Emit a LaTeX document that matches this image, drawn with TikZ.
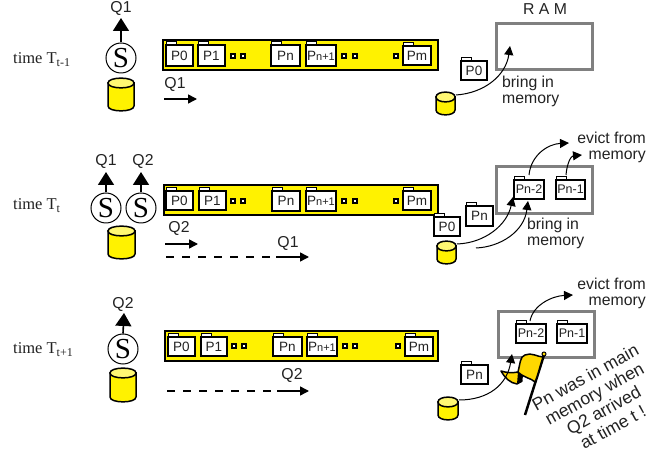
\documentclass[tikz,border=0pt]{standalone}
\usepackage{fontspec}
\setmainfont{Liberation Sans}
\newfontfamily\timesf{Liberation Serif}
\usetikzlibrary{arrows.meta,fit}
\definecolor{inkc}{HTML}{222222}
\definecolor{ramgray}{HTML}{808080}
\definecolor{flaggold}{HTML}{FFD800}
\tikzset{
  x=1pt,y=-1pt,
  txt/.style={text=inkc,inner sep=0pt,font=\fontsize{15.8}{16}\selectfont,align=center},
  timetxt/.style={text=inkc,inner sep=0pt,anchor=west,font=\timesf\fontsize{16.5}{18}\selectfont},
  stxt/.style={circle,draw=black,line width=1pt,fill=white,minimum size=30pt,inner sep=0pt,font=\timesf\fontsize{29}{29}\selectfont},
  barbox/.style={draw=black,fill=yellow,line width=2.5pt,inner sep=0pt},
  folderbox/.style={draw=black,fill=white,line width=1.8pt,inner sep=0pt},
  dotbox/.style={draw=black,fill=white,line width=1.8pt,minimum size=4.5pt,inner sep=0pt},
  rambox/.style={draw=ramgray,line width=3pt,inner sep=0pt},
  uparr/.style={line width=1.6pt,-{Triangle[length=13pt,width=16pt]}},
  qarr/.style={line width=1.5pt,-{Triangle[length=9pt,width=9pt]}},
  qdash/.style={line width=1.5pt,dash pattern=on 8pt off 8pt},
  curvearr/.style={line width=1pt,-{Triangle[length=9pt,width=9pt]}},
}
\newcommand{\folder}[6]{%
  \node[folderbox,fit={(#2,#3)(#4,#5)}] (#1) {};
  \node[text=inkc,inner sep=0pt,font=\fontsize{13.5}{14}\selectfont] (#1t) at (#1.center) {#6};
  \draw[draw=black,fill=white,line width=1pt] (#2,#3-3) rectangle (#2+10,#3);
}
\newcommand{\cyl}[5]{%
  \path[draw=black,fill=yellow,line width=1.5pt]
    (#2,#3+5) -- (#4,#3+5) -- (#4,#5-5) .. controls (#4,#5+1.5) and (#2,#5+1.5) .. (#2,#5-5) -- cycle;
  \path[draw=black,fill=yellow!55!white,line width=1.5pt]
    (#2,#3+5) .. controls (#2,#3-1.5) and (#4,#3-1.5) .. (#4,#3+5)
    .. controls (#4,#3+11.5) and (#2,#3+11.5) .. (#2,#3+5) -- cycle;
  \coordinate (#1) at (#4+1,#3+3);
}
\newcommand{\smallp}[1]{P{\fontsize{11}{12}\selectfont #1}}
\newcommand{\nar}[1]{\fontsize{12.5}{14}\selectfont #1}
\begin{document}
\begin{tikzpicture}
\useasboundingbox (0,0) rectangle (665,454);

% ---------- row 1 ----------
\node[timetxt] (t1) at (13,60) {time T\raisebox{-3pt}{\fontsize{12}{12}\selectfont t-1}};
\node[stxt] (s1) at (121,58) {S};
\node[txt] (q1a) at (121,8) {Q1};
\coordinate (q1tip) at (121,18);
\draw[uparr] (s1.north) -- (q1tip);
\cyl{c1a}{108}{78}{134}{111}
\node[barbox,fit={(163,40)(438,70)}] (bar1) {};
\folder{r1p0}{166}{45}{193}{66}{P0}
\folder{r1p1}{198}{45}{225}{66}{P1}
\node[dotbox] (r1d1) at (233,56) {};
\node[dotbox] (r1d2) at (243,56) {};
\folder{r1pn}{271}{45}{300}{66}{Pn}
\folder{r1pn1}{306}{45}{336}{66}{\smallp{n+1}}
\node[dotbox] (r1d3) at (344,56) {};
\node[dotbox] (r1d4) at (355,56) {};
\node[dotbox] (r1d5) at (396,56) {};
\folder{r1pm}{403}{46}{431}{65}{Pm}
\node[txt] (q1b) at (175,84) {Q1};
\coordinate (a1s) at (164,99);
\coordinate (a1e) at (197,99);
\draw[qarr] (a1s) -- (a1e);
\node[txt] (ram) at (545,9) {R A M};
\node[rambox,fit={(496,24)(592,70)}] (ram1) {};
\folder{r1p0b}{461}{61}{487}{80}{P0}
\cyl{c1b}{436}{92}{455}{115}
\coordinate (r1tip) at (510,46);
\draw[curvearr] (c1b) .. controls (485,93) and (506,75) .. (r1tip);
\node[txt,anchor=north west,align=left] (bring1) at (502,76) {bring in\\memory};

% ---------- row 2 ----------
\node[timetxt] (t2) at (13,206) {time T\raisebox{-3pt}{\fontsize{12}{12}\selectfont t}};
\node[stxt] (s2a) at (106,208) {S};
\node[stxt] (s2b) at (141,208) {S};
\node[txt] (q2a) at (106,161) {Q1};
\node[txt] (q2b) at (143,161) {Q2};
\coordinate (q2at) at (106,172);
\coordinate (q2bt) at (141,172);
\draw[uparr] (s2a.north) -- (q2at);
\draw[uparr] (s2b.north) -- (q2bt);
\cyl{c2a}{108}{226}{135}{259}
\node[barbox,fit={(164,185)(438,215)}] (bar2) {};
\folder{r2p0}{166}{191}{193}{210}{P0}
\folder{r2p1}{199}{191}{226}{210}{P1}
\node[dotbox] (r2d1) at (233,201) {};
\node[dotbox] (r2d2) at (243,201) {};
\folder{r2pn}{272}{191}{300}{211}{Pn}
\folder{r2pn1}{306}{191}{336}{211}{\smallp{n+1}}
\node[dotbox] (r2d3) at (344,201) {};
\node[dotbox] (r2d4) at (355,201) {};
\node[dotbox] (r2d5) at (396,201) {};
\folder{r2pm}{403}{191}{431}{210}{Pm}
\node[txt] (q2c) at (179,228) {Q2};
\coordinate (a2s) at (165,244);
\coordinate (a2e) at (198,244);
\draw[qarr] (a2s) -- (a2e);
\coordinate (d2s) at (166,257);
\coordinate (d2e) at (276,257);
\coordinate (d2t) at (309,257);
\draw[qdash] (d2s) -- (d2e);
\draw[qarr] (d2e) -- (d2t);
\node[txt] (q2d) at (288,243) {Q1};
\node[rambox,fit={(496,167)(592,214)}] (ram2) {};
\folder{r2pn2}{514}{180}{544}{199}{\nar{Pn-2}}
\folder{r2pn1b}{556}{180}{585}{199}{\nar{Pn-1}}
\folder{r2pnb}{466}{206}{493}{226}{Pn}
\folder{r2p0b}{434}{217}{460}{236}{P0}
\cyl{c2b}{437}{241}{456}{264}
\coordinate (c2c) at (476,248);
\coordinate (r2ta) at (513,197);
\coordinate (r2tb) at (528,201);
\draw[curvearr] (c2b) .. controls (485,243) and (507,225) .. (r2ta);
\draw[curvearr] (c2c) .. controls (500,247) and (524,232) .. (r2tb);
\node[txt,anchor=north west,align=left] (bring2) at (527,218) {bring in\\memory};
\coordinate (e2a) at (529,175);
\coordinate (e2at) at (569,143);
\coordinate (e2b) at (566,175);
\coordinate (e2bt) at (582,155);
\draw[curvearr] (e2a) .. controls (531,155) and (548,144) .. (e2at);
\draw[curvearr] (e2b) .. controls (567,163) and (571,156) .. (e2bt);
\node[txt,anchor=north east,align=right] (evict2) at (646,132) {evict from\\memory};

% ---------- row 3 ----------
\node[timetxt] (t3) at (13,350) {time T\raisebox{-3pt}{\fontsize{12}{12}\selectfont t+1}};
\node[stxt] (s3) at (123,349) {S};
\node[txt] (q3a) at (123,304) {Q2};
\coordinate (q3t) at (124,313);
\draw[uparr] (s3.north) -- (q3t);
\cyl{c3a}{110}{368}{136}{402}
\node[barbox,fit={(165,331)(438,361)}] (bar3) {};
\folder{r3p0}{168}{337}{195}{356}{P0}
\folder{r3p1}{201}{337}{227}{356}{P1}
\node[dotbox] (r3d1) at (234,346) {};
\node[dotbox] (r3d2) at (244,346) {};
\folder{r3pn}{273}{337}{302}{356}{Pn}
\folder{r3pn1}{307}{337}{337}{356}{\smallp{n+1}}
\node[dotbox] (r3d3) at (345,346) {};
\node[dotbox] (r3d4) at (355,346) {};
\node[dotbox] (r3d5) at (398,346) {};
\folder{r3pm}{405}{337}{433}{356}{Pm}
\coordinate (d3s) at (167,391);
\coordinate (d3e) at (277,391);
\coordinate (d3t) at (309,391);
\draw[qdash] (d3s) -- (d3e);
\draw[qarr] (d3e) -- (d3t);
\node[txt] (q3b) at (292,375) {Q2};
\node[rambox,fit={(498,312)(594,358)}] (ram3) {};
\folder{r3pn2}{516}{324}{546}{343}{\nar{Pn-2}}
\folder{r3pn1b}{557}{324}{587}{343}{\nar{Pn-1}}
\folder{r3pnb}{461}{365}{488}{384}{Pn}
\cyl{c3b}{438}{397}{458}{420}
\coordinate (e3a) at (530,321);
\coordinate (e3t) at (573,295);
\draw[curvearr] (e3a) .. controls (533,305) and (552,296) .. (e3t);
\node[txt,anchor=north east,align=right] (evict3) at (646,278) {evict from\\memory};
% flag
\draw[line width=2.5pt,black] (525,415) -- (544,355);
\draw[fill=flaggold,draw=black,line width=1pt] (544,354) circle (2pt);
\draw[fill=flaggold,draw=black,line width=1.5pt,line join=round]
  (501,371) .. controls (507,373) and (513,373) .. (518,372)
  -- (522,381) -- (517,384)
  .. controls (510,383) and (505,378) .. (501,371) -- cycle;
\fill[black] (518,372) -- (523,376) -- (522,382) -- (517,384) -- cycle;
\draw[fill=flaggold,draw=black,line width=1.5pt,line join=round]
  (518,372) .. controls (520,365) and (520,356) .. (525,355)
  .. controls (531,352) and (538,357) .. (543,357)
  .. controls (540,366) and (538,375) .. (535,382)
  .. controls (531,378) and (524,378) .. (518,372) -- cycle;
\coordinate (r3t) at (512,354);
\draw[curvearr] (c3b) .. controls (488,400) and (507,385) .. (r3t);
\node[txt,rotate=29,font=\fontsize{17.5}{19}\selectfont] (note) at (599,402) {Pn was in main\\memory when\\Q2 arrived\\at time t !};
\end{tikzpicture}
\end{document}
